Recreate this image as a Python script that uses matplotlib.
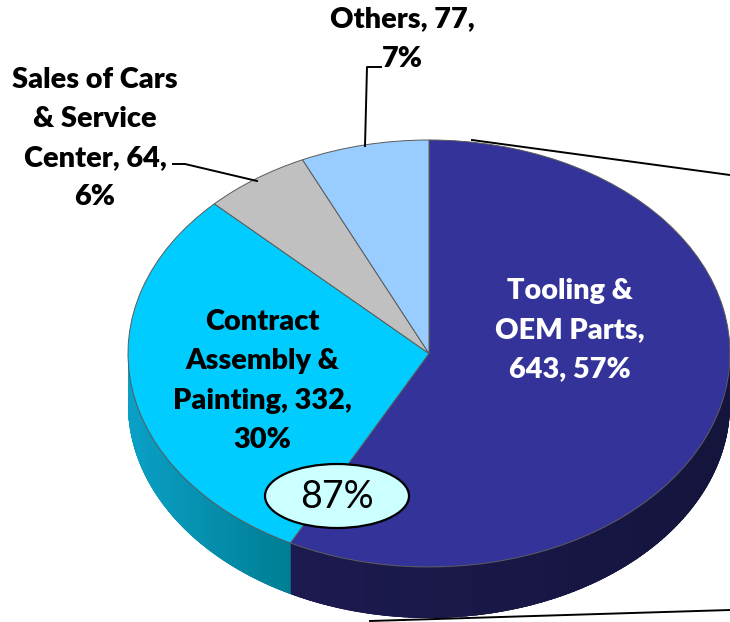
import matplotlib
matplotlib.use("Agg")
import matplotlib.pyplot as plt
from matplotlib.collections import PolyCollection
from matplotlib.colors import to_rgb
from matplotlib.patches import Ellipse, Polygon
import numpy as np

# clockwise from 12 o'clock
names = ["Tooling &\nOEM Parts,\n", "Contract\nAssembly &\nPainting, ", "Sales of Cars\n& Service\nCenter, ", "Others, "]
values = [643, 332, 64, 77]
shares = [57, 30, 6, 7]
breaks = [" ", "\n", "\n", "\n"]
colors = ["#333399", "#00CCFF", "#C0C0C0", "#99CCFF"]
side_left = ["#1C1A50", "#0AA0C6", "#8A8A8A", "#6E93B8"]
side_right = ["#15143C", "#007E94", "#6A6A6A", "#55728F"]
total_text = "87%"

W, H = 730, 622
CX, CY, RX, RY = 429, 353.5, 301, 213.5
DEPTH = 51 / RY

plt.rcParams["font.family"] = ["Lato", "DejaVu Sans"]

fig = plt.figure(figsize=(W / 100, H / 100), dpi=100)

# pie axes: one data unit = the pie radius
ax = fig.add_axes([0, 0, 1, 1])
ax.patch.set_visible(False)

# side wall, only the lower half is visible
angles = 90 - np.cumsum([0] + values) / sum(values) * 360
for i in range(len(values)):
    s, e = min(angles[i], 0), max(angles[i + 1], -180)
    if s <= e:
        continue
    t = np.radians(np.linspace(s, e, 120))
    x, y = np.cos(t), np.sin(t)
    outline = np.r_[np.c_[x, y], np.c_[x[::-1], y[::-1] - DEPTH]]
    base = Polygon(outline, facecolor=side_right[i], edgecolor="none")
    ax.add_patch(base)
    quads, quad_colors = [], []
    left, right = np.array(to_rgb(side_left[i])), np.array(to_rgb(side_right[i]))
    for j in range(len(t) - 1):
        quads.append([(x[j], y[j]), (x[j + 1], y[j + 1]),
                      (x[j + 1], y[j + 1] - DEPTH), (x[j], y[j] - DEPTH)])
        f = (x[j] - x[-1]) / max(x[0] - x[-1], 1e-6)
        quad_colors.append(left * (1 - f) + right * f)
    walls = PolyCollection(quads, facecolors=quad_colors, edgecolors=quad_colors, linewidths=1.5)
    ax.add_collection(walls)
    walls.set_clip_path(base)

ax.pie(values, colors=colors, startangle=90, counterclock=False,
       wedgeprops={"edgecolor": "#5A5A5A", "linewidth": 0.7})
ax.set_aspect("auto")
ax.set_xlim(-CX / RX, (W - CX) / RX)
ax.set_ylim(-(H - CY) / RY, CY / RY)

# overlay in pixel coordinates for labels and leader lines
ov = fig.add_axes([0, 0, 1, 1])
ov.set_xlim(0, W)
ov.set_ylim(H, 0)
ov.axis("off")

label_pos = [(570, 330), (262, 381), (95, 138.5), (402, 39)]
label_col = ["white", "black", "black", "black"]
for i in range(4):
    txt = f"{names[i]}{values[i]},{breaks[i]}{shares[i]}%"
    ov.text(label_pos[i][0], label_pos[i][1], txt, color=label_col[i], fontsize=20.8,
            fontweight="heavy", ha="center", va="center", linespacing=1.62, multialignment="center")

ov.plot([173, 185, 257], [164, 164, 181], color="black", lw=1.4)
ov.plot([381, 367, 365], [67, 67, 146], color="black", lw=1.4)
ov.plot([472, 730], [140, 175], color="black", lw=1.4)
ov.plot([370, 730], [621, 610], color="black", lw=1.4)

ov.add_patch(Ellipse((337, 496), 144, 64, facecolor="#CCFFFF", edgecolor="black", lw=1.6))
ov.text(337, 497, total_text, fontsize=27, color="black", ha="center", va="center")

fig.savefig("out.png", dpi=100)
